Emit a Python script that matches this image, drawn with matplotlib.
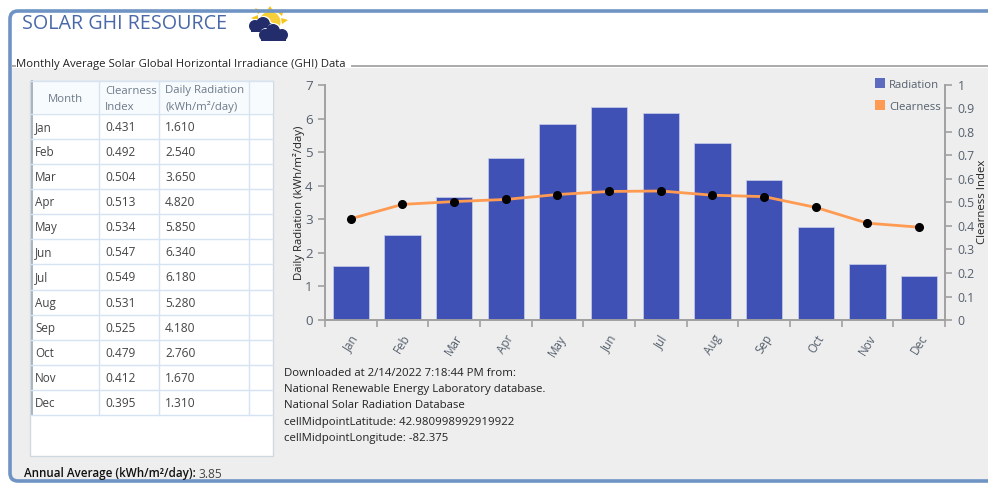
import matplotlib
matplotlib.use("Agg")
import matplotlib.pyplot as plt
from matplotlib.patches import Circle, FancyBboxPatch, Polygon, Rectangle
from matplotlib.transforms import ScaledTranslation

W, H = 988, 483

months = ["Jan", "Feb", "Mar", "Apr", "May", "Jun", "Jul", "Aug", "Sep", "Oct", "Nov", "Dec"]
clearness = [0.431, 0.492, 0.504, 0.513, 0.534, 0.547, 0.549, 0.531, 0.525, 0.479, 0.412, 0.395]
radiation = [1.610, 2.540, 3.650, 4.820, 5.850, 6.340, 6.180, 5.280, 4.180, 2.760, 1.670, 1.310]
left_ticks = [0, 1, 2, 3, 4, 5, 6, 7]
right_ticks = [0, 0.1, 0.2, 0.3, 0.4, 0.5, 0.6, 0.7, 0.8, 0.9, 1]
source_lines = [
    "Downloaded at 2/14/2022 7:18:44 PM from:",
    "National Renewable Energy Laboratory database.",
    "National Solar Radiation Database",
    "cellMidpointLatitude: 42.980998992919922",
    "cellMidpointLongitude: -82.375",
]

BAR = "#3f51b5"
ORANGE = "#ff9a52"
PANEL = "#eeeeee"
FRAME = "#6f94c4"
GRID = "#d5e3f3"
AXIS = "#a0a0a0"
TEXT = "#444444"
TICK = "#55606e"
HEAD = "#6d7b88"
NAVY = "#232d6b"

plt.rcParams["font.family"] = ["Open Sans", "DejaVu Sans"]
plt.rcParams["font.size"] = 8.2


def box(x0, y0, x1, y1):
    # axes rectangle from pixel edges, y counted from the top
    return [x0 / W, 1 - y1 / H, (x1 - x0) / W, (y1 - y0) / H]


def cloud(target, lobes, base):
    # white rim first, then the dark body on top of it
    x0, y0, x1, y1 = base
    for cx, cy, r in lobes:
        target.add_patch(Circle((cx + 1, cy - 1), r, fc="white", ec="none"))
    for cx, cy, r in lobes:
        target.add_patch(Circle((cx, cy), r, fc=NAVY, ec="none"))
    target.add_patch(Rectangle((x0, y0), x1 - x0, y1 - y0, fc=NAVY, ec="none"))


fig = plt.figure(figsize=(W / 100, H / 100), dpi=100, facecolor="white")

# page furniture, drawn in pixel coordinates
bg = fig.add_axes([0, 0, 1, 1])
bg.set_xlim(0, W)
bg.set_ylim(H, 0)
bg.axis("off")

bg.add_patch(Rectangle((10, 68), W, 413, fc=PANEL, ec="none"))

# weather icon: sun behind two dark clouds
for ray in [[(266, 12), (274, 12), (270, 6)], [(258, 14), (263, 11), (255, 8)],
            [(277, 12), (282, 16), (284, 9)], [(281, 18), (282, 24), (288, 20)],
            [(251, 18), (258, 15), (258, 21)]]:
    bg.add_patch(Polygon(ray, fc="#f5c518", ec="none"))
bg.add_patch(Circle((270, 22), 10.5, fc="#f7cf3a", ec="none"))
cloud(bg, [(255, 26, 6), (263, 24, 7), (269, 28, 5)], (251, 27, 272, 32))
cloud(bg, [(265, 35, 6), (273, 31, 7), (282, 35, 6)], (261, 35, 286, 41))

bg.add_patch(FancyBboxPatch((10, 11), W + 30, 470, boxstyle="round,pad=0,rounding_size=8",
                            fc="none", ec=FRAME, lw=2.6))

bg.text(22, 24, "SOLAR GHI RESOURCE", color="#4a68a8", fontsize=14.2, fontweight="medium",
        va="center", ha="left")
bg.plot([12, 15], [66, 66], color="#aaaaaa", lw=1.4)
bg.plot([352, W], [66, 66], color="#aaaaaa", lw=1.4)
bg.text(16, 65, "Monthly Average Solar Global Horizontal Irradiance (GHI) Data",
        color="#222222", va="center", ha="left")

# monthly table
col_x = [31, 99, 159, 249, 273]
row_top, row_h = 113.5, 25.15
bg.add_patch(Rectangle((29.5, 81), 243.5, 375, fc="white", ec="#d0d8e0", lw=1))
bg.add_patch(Rectangle((31, 81), 242, 32, fc="#f8fbfe", ec="none"))
table_bottom = row_top + row_h * len(months)
bg.plot([31.5, 31.5], [81, table_bottom], color="#a8b4c0", lw=1.4)
for x in col_x[1:4]:
    bg.plot([x, x], [81, table_bottom], color=GRID, lw=1)
bg.plot([31, 273], [81, 81], color=GRID, lw=1)
for i in range(len(months) + 1):
    y = row_top + i * row_h
    bg.plot([31, 273], [y, y], color=GRID, lw=1)

bg.text(65, 99, "Month", color=HEAD, ha="center", va="center")
bg.text(105, 91, "Clearness", color=HEAD, ha="left", va="center")
bg.text(105, 107, "Index", color=HEAD, ha="left", va="center")
bg.text(165, 91, "Daily Radiation", color=HEAD, ha="left", va="center")
bg.text(165, 107, "(kWh/m²/day)", color=HEAD, ha="left", va="center")
for i, month in enumerate(months):
    y = row_top + (i + 0.5) * row_h + 1
    bg.text(35, y, month, color=TEXT, ha="left", va="center", fontsize=8.4)
    bg.text(105, y, f"{clearness[i]:.3f}", color=TEXT, ha="left", va="center", fontsize=8.6)
    bg.text(165, y, f"{radiation[i]:.3f}", color=TEXT, ha="left", va="center", fontsize=8.6)

bg.text(24, 474, "Annual Average (kWh/m²/day):", color="#111111", fontweight="semibold",
        fontsize=8.4, ha="left", va="center")
bg.text(198, 474, "3.85", color=TEXT, ha="left", va="center", fontsize=8.6)

for i, line in enumerate(source_lines):
    bg.text(284, 373.5 + i * 16.2, line, color="#222222", ha="left", va="center")

# radiation bars on the left axis
ax = fig.add_axes(box(325, 85, 945, 320))
ax.patch.set_alpha(0)
xs = list(range(len(months)))
ax.bar(xs, radiation, width=0.7, color=BAR, edgecolor="#c9cfe8", linewidth=0.5, zorder=2)
ax.set_xlim(-0.5, 11.5)
ax.set_ylim(0, 7)
ax.set_yticks(left_ticks)
ax.set_xticks([x - 0.5 for x in xs] + [11.5])
ax.set_xticklabels([])
ax.set_xticks(xs, minor=True)
ax.set_xticklabels(months, minor=True, rotation=58, ha="center", va="top", color=TICK, fontsize=8.4)
shift = ScaledTranslation(-4 / 100, 0, fig.dpi_scale_trans)
for label in ax.get_xticklabels(minor=True):
    label.set_transform(label.get_transform() + shift)
ax.tick_params(axis="x", which="minor", length=0, pad=9)
ax.tick_params(axis="x", which="major", length=5, width=1.2, color=AXIS)
ax.tick_params(axis="y", length=5, width=1.2, color=AXIS, labelcolor=TICK, labelsize=9.6, pad=4)
ax.set_ylabel("Daily Radiation (kWh/m²/day)", color="#222222", labelpad=0)
for side in ("top", "right"):
    ax.spines[side].set_visible(False)
for side in ("left", "bottom"):
    ax.spines[side].set_color(AXIS)
    ax.spines[side].set_linewidth(1.4)

# clearness line on the right axis
ax2 = ax.twinx()
ax2.plot(xs, clearness, color=ORANGE, lw=2, zorder=3)
ax2.plot(xs, clearness, "o", color="black", ms=5.5, zorder=4)
ax2.set_ylim(0, 1)
ax2.set_yticks(right_ticks)
ax2.set_yticklabels([f"{v:g}" for v in right_ticks])
ax2.tick_params(axis="y", length=5, width=1.2, color=AXIS, labelcolor=TICK, labelsize=8.8, pad=4)
for side in ("top", "left", "bottom"):
    ax2.spines[side].set_visible(False)
ax2.spines["right"].set_color(AXIS)
ax2.spines["right"].set_linewidth(1.4)
bg.text(982, 202, "Clearness Index", color="#222222", rotation=90, ha="center", va="center")

# series key
bg.add_patch(Rectangle((875, 78), 10, 10, fc="#5c6bc0", ec="none"))
bg.add_patch(Rectangle((875, 100), 10, 10, fc=ORANGE, ec="none"))
bg.text(889, 85, "Radiation", color=TICK, ha="left", va="center")
bg.text(889, 107, "Clearness", color=TICK, ha="left", va="center")

fig.savefig("out.png", dpi=100)
